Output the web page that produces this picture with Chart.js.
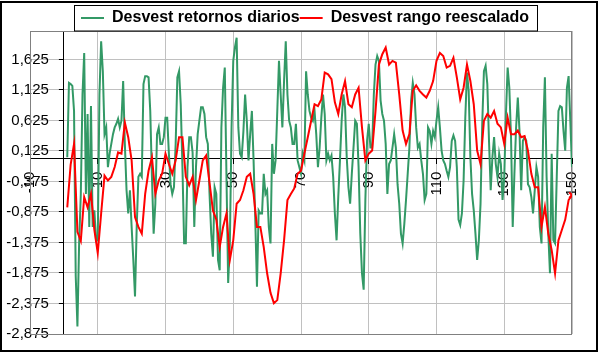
<!DOCTYPE html>
<html><head><meta charset="utf-8">
<script src="https://cdn.jsdelivr.net/npm/chart.js@4/dist/chart.umd.min.js"></script>
<style>html,body{margin:0;padding:0;background:#fff;}#wrap{width:598px;height:353px;}</style>
</head><body><div id="wrap"><canvas id="c" width="598" height="353"></canvas></div>
<script>
// ---- data ----
const seriesNames = ['Desvest retornos diarios', 'Desvest rango reescalado'];
// x positions: green series read every half unit, red series every unit
const xGreen = Array.from({length: 299}, (_, i) => 1 + i * 0.5);
const xRed = Array.from({length: 150}, (_, i) => i + 1);
const retornosDiarios = [
 0.02, 1.24, 1.22, 1.19, 0.78, -1.93, -2.75, -1.39, -0.58, 1.05,
 1.73, -0.58, 0.73, -1.12, 0.86, -1.12, -0.85, -1.34, -1.34, 1.05,
 1.92, 1.43, 0.4, 0.51, -0.14, 0.08, 0.24, 0.4, 0.51, 0.57,
 0.65, 0.51, 0.62, 1.27, 0.24, -0.52, -0.9, -0.52, -1.12, -1.66,
 -2.26, -1.12, -0.3, -0.25, -0.3, 1.22, 1.35, 1.35, 1.33, 0.78,
 -0.3, -1.23, -0.74, 0.4, 0.51, 0.24, 0.24, 0.35, 0.67, 0.67,
 0.08, -0.42, -0.58, -0.47, 0.24, 1.33, 1.43, 0.89, -0.14, -1.39,
 -1.39, -0.14, 0.35, 0.35, 0.1, -1.12, -0.14, 0.4, 0.62, 0.84,
 0.84, 0.73, 0.35, 0.24, -0.58, -1.23, -1.61, -0.47, -0.58, -1.66,
 -1.83, 0.51, 1.16, 1.49, -0.3, -2.04, -1.39, 0.51, 1.6, 1.82,
 1.98, 0.51, 0.08, 0.02, 0.45, 1.05, 0.62, -0.03, 0.4, 0.78,
 -0.03, -1.0, -2.1, -0.85, -0.9, -0.9, -0.25, -0.58, -0.52, -1.12,
 -1.39, 0.24, -0.25, -0.03, 0.78, 1.6, 1.05, 0.51, 1.27, 1.92,
 1.05, 0.62, 0.51, 0.24, 0.24, 0.57, -0.03, -0.14, -0.25, 0.08,
 -0.03, 1.43, 1.05, 0.78, 0.67, 0.62, 0.78, 0.4, -0.14, 0.18,
 0.67, 1.05, 0.73, -0.03, 0.08, -0.03, 0.05, -0.3, -0.9, -1.34,
 -0.63, -0.03, 0.62, 1.05, 0.84, 0.02, -0.47, -0.74, -0.25, 0.18,
 0.62, 0.57, -0.14, -1.23, -1.88, -2.15, -0.68, 0.29, 0.57, 0.18,
 0.18, 1.05, 1.54, 1.68, 1.6, 0.95, 0.73, 0.62, 0.24, -0.58,
 -0.09, -0.03, 0.18, 0.4, 0.18, -0.42, -0.74, -1.23, -1.39, -1.07,
 -0.68, -0.25, 0.18, 0.95, 1.24, 1.05, 0.51, 0.18, 0.24, -0.03,
 -0.25, -0.68, -0.58, 0.51, 0.45, 0.24, 0.45, 0.35, 0.62, 0.84,
 0.51, 0.13, -0.03, -0.09, -0.2, -0.3, -0.14, 0.29, 0.38, 0.29,
 -0.14, -1.0, -1.09, -0.9, -0.36, 0.67, 1.41, 1.11, 0.02, -0.58,
 -0.85, -1.23, -1.66, -1.34, -0.74, 0.57, 1.43, 1.52, 1.22, 0.29,
 -0.52, 0.02, 0.35, -0.09, -0.3, 0.08, -0.09, -0.68, -0.3, 0.73,
 1.49, 1.16, 0.35, -1.12, -0.25, 0.51, 1.0, 0.45, -0.52, 0.29,
 0.35, 0.29, -0.42, -0.47, -0.63, -0.9, -0.52, -0.14, -0.3, -1.12,
 -1.39, 0.51, 1.33, -0.3, -1.23, -1.88, 0.08, -1.34, -1.39, -0.3,
 0.78, 0.86, 0.84, 0.45, 0.13, 1.16, 1.35, 0.62, -0.14
];
const rangoReescalado = [
 -0.8, -0.1, 0.24, -1.2, -1.35, -0.63, -0.8, -0.58, -1.17, -1.55,
 -0.9, -0.28, -0.36, -0.3, -0.14, 0.1, 0.08, 0.59, 0.35, -0.03,
 -0.96, -1.12, -1.23, -0.58, -0.2, 0.02, -0.58, -0.36, -0.25, 0.08,
 -0.09, -0.25, -0.03, 0.35, 0.35, -0.3, -0.44, -0.3, -0.68, -0.36,
 -0.03, 0.05, -0.4, -0.85, -1.0, -1.45, -1.12, -0.9, -1.66, -1.34,
 -0.74, -0.68, -0.52, -0.3, -0.25, -0.58, -1.12, -1.12, -1.45, -1.88,
 -2.2, -2.37, -2.32, -1.88, -1.34, -0.68, -0.58, -0.49, -0.25, -0.2,
 0.08, 0.35, 0.62, 0.89, 0.86, 0.97, 1.41, 1.38, 1.3, 0.92,
 0.73, 1.05, 1.27, 0.89, 0.84, 1.05, 1.16, 0.51, -0.03, 0.08,
 0.13, 0.78, 1.54, 1.71, 1.82, 1.54, 1.6, 1.57, 1.05, 0.46,
 0.24, 0.4, 1.11, 1.2, 1.11, 1.05, 1.0, 1.11, 1.27, 1.6,
 1.73, 1.68, 1.49, 1.52, 1.65, 1.33, 0.97, 1.16, 1.54, 1.27,
 0.89, 0.13, -0.09, 0.62, 0.73, 0.67, 0.78, 0.57, 0.51, 0.24,
 0.67, 0.4, 0.4, 0.46, 0.35, 0.37, 0.13, -0.25, -0.47, -0.47,
 -1.12, -0.79, -1.23, -1.5, -1.88, -1.34, -1.17, -1.0, -0.68, -0.6
];
const xTickValues = [-10, 10, 30, 50, 70, 90, 110, 130, 150];
const yTickValues = [-2.875, -2.375, -1.875, -1.375, -0.875, -0.375, 0.125, 0.625, 1.125, 1.625];

// ---- chart ----
const FONT = 'Arial, "Liberation Sans", sans-serif';
const GREEN = '#339966', RED = '#ff0000';

const decorPlugin = {
  id: 'decor',
  beforeDraw(chart) {
    const c = chart.ctx;
    c.save(); c.fillStyle = '#fff'; c.fillRect(0, 0, chart.width, chart.height); c.restore();
  },
  afterLayout(chart) {
    const y = chart.scales.y, x = chart.scales.x;
    const px = x.getPixelForValue(0);
    y.left = 0; y.right = px; y.width = px;
  },
  beforeDatasetsDraw(chart) {
    const c = chart.ctx, a = chart.chartArea;
    c.save();
    c.strokeStyle = '#808080'; c.lineWidth = 1;
    c.strokeRect(a.left + 0.5, a.top + 0.5, a.right - a.left - 1, a.bottom - a.top);
    c.restore();
  },
  afterDraw(chart) {
    const c = chart.ctx, lg = chart.legend;
    c.save();
    const hb = lg.legendHitBoxes;
    if (hb && hb.length) {
      const l = hb[0].left - 7, r = hb[hb.length - 1].left + hb[hb.length - 1].width + 8;
      c.strokeStyle = '#000'; c.lineWidth = 1;
      c.strokeRect(Math.round(l) + 0.5, 5.5, Math.round(r - l), 25.5);
    }
    c.strokeStyle = '#000'; c.lineWidth = 2;
    c.strokeRect(1, 2, 596, 349);
    c.restore();
  }
};

new Chart(document.getElementById('c'), {
  type: 'line',
  data: {
    datasets: [
      { label: seriesNames[0], data: xGreen.map((x, i) => ({x, y: retornosDiarios[i]})),
        borderColor: GREEN, backgroundColor: GREEN, borderWidth: 2, pointRadius: 0, tension: 0, order: 1 },
      { label: seriesNames[1], data: xRed.map((x, i) => ({x, y: rangoReescalado[i]})),
        borderColor: RED, backgroundColor: RED, borderWidth: 2, tension: 0, order: 0,
        pointRadius: (ctx) => ctx.dataIndex === xRed.length - 1 ? 4 : 0,
        pointStyle: 'crossRot', pointBorderColor: RED, pointBorderWidth: 2 }
    ]
  },
  options: {
    responsive: false, animation: false, devicePixelRatio: 1,
    layout: { padding: { left: 30, right: 18, top: 10, bottom: 18 } },
    plugins: {
      legend: {
        position: 'top', align: 'center', maxHeight: 21,
        labels: {
          usePointStyle: true, pointStyle: 'line', pointStyleWidth: 23, boxHeight: 16, padding: 0,
          color: '#000', font: { family: FONT, size: 16, weight: 'bold' },
          sort: (a, b) => a.datasetIndex - b.datasetIndex
        }
      },
      tooltip: { enabled: false }
    },
    scales: {
      x: {
        type: 'linear', position: { y: 0 }, min: -10, max: 150,
        afterBuildTicks: (s) => { s.ticks = xTickValues.map(v => ({ value: v })); },
        afterFit: (s) => { s.height = 0; },
        grid: { color: '#c0c0c0', tickColor: '#000', tickLength: 5 },
        border: { color: '#000', width: 1 },
        ticks: { autoSkip: false, minRotation: 90, maxRotation: 90, padding: 8, color: '#000',
          font: { family: FONT, size: 15 }, callback: (v) => String(v) }
      },
      y: {
        type: 'linear', position: 'left', min: -2.875, max: 2.09,
        afterBuildTicks: (s) => { s.ticks = yTickValues.map(v => ({ value: v })); },
        afterFit: (s) => { s.width = 0; },
        grid: { color: '#c0c0c0', tickColor: '#000', tickLength: 5 },
        border: { color: '#000', width: 1 },
        ticks: { padding: 10, color: '#000', font: { family: FONT, size: 15 },
          callback: (v) => Number(v).toFixed(3).replace('.', ',') }
      }
    }
  },
  plugins: [decorPlugin]
});
</script>
</body></html>
